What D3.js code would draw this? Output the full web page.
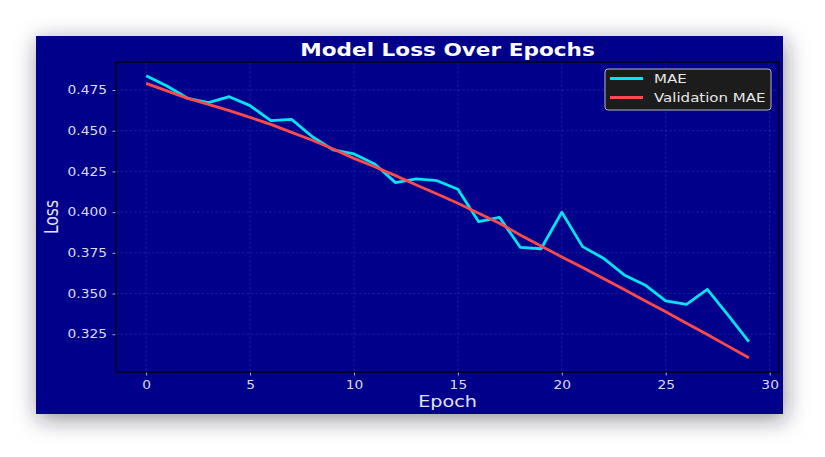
<!DOCTYPE html>
<html>
<head>
<meta charset="utf-8">
<script src="https://cdn.jsdelivr.net/npm/d3@7"></script>
<style>
  html, body { margin: 0; padding: 0; background: #ffffff; }
  svg { display: block; font-family: "DejaVu Sans", sans-serif; }
</style>
</head>
<body>
<svg id="chart" width="825" height="457"></svg>
<script>
// epochs 0..29
const epochs = d3.range(0, 30);

// training MAE (cyan)
const maeValues = [
  0.4838, 0.4775, 0.4699, 0.4672, 0.4709, 0.4654, 0.4562, 0.4570, 0.4463, 0.4382,
  0.4357, 0.4296, 0.4181, 0.4204, 0.4193, 0.4140, 0.3941, 0.3968, 0.3784, 0.3775,
  0.3999, 0.3788, 0.3717, 0.3614, 0.3553, 0.3455, 0.3434, 0.3526, 0.3367, 0.3205
];

// validation MAE (red)
const valMaeValues = [
  0.4791, 0.4745, 0.4699, 0.4662, 0.4623, 0.4582, 0.4539, 0.4490, 0.4441, 0.4388,
  0.4330, 0.4279, 0.4224, 0.4167, 0.4111, 0.4054, 0.3993, 0.3932, 0.3860, 0.3792,
  0.3725, 0.3660, 0.3592, 0.3525, 0.3456, 0.3388, 0.3318, 0.3248, 0.3177, 0.3106
];

const xTicks = [0, 5, 10, 15, 20, 25, 30];
const yTicks = [0.325, 0.350, 0.375, 0.400, 0.425, 0.450, 0.475];

const seriesNames = ["MAE", "Validation MAE"];
const seriesColors = ["#00e5f5", "#ff4a4a"];

// the picture is a bit wider than tall, text looks stretched sideways
const stretch = 1.2;

const svg = d3.select("#chart");

// drop shadow for the figure panel
const defs = svg.append("defs");
const shadow = defs.append("filter")
  .attr("id", "shadow")
  .attr("x", "-10%").attr("y", "-20%")
  .attr("width", "125%").attr("height", "145%");
shadow.append("feDropShadow")
  .attr("dx", 2).attr("dy", 5)
  .attr("stdDeviation", 11)
  .attr("flood-color", "#1a2030")
  .attr("flood-opacity", 0.5);

// figure panel
const fig = { x: 36, y: 36, w: 747, h: 378 };
svg.append("rect")
  .attr("x", fig.x).attr("y", fig.y)
  .attr("width", fig.w).attr("height", fig.h)
  .attr("fill", "#00008b")
  .attr("filter", "url(#shadow)");

// plot area
const plot = { left: 116, top: 62, right: 779, bottom: 372 };

const x = d3.scaleLinear()
  .domain([-1.45, 30.45])
  .range([plot.left, plot.right]);

const y = d3.scaleLinear()
  .domain([0.3018, 0.4922])
  .range([plot.bottom, plot.top]);

const g = svg.append("g");

// grid
const gridStyle = sel => sel
  .attr("stroke", "#8a8ad0")
  .attr("stroke-opacity", 0.25)
  .attr("stroke-width", 0.8)
  .attr("stroke-dasharray", "2.5,2");

g.append("g")
  .selectAll("line")
  .data(xTicks)
  .join("line")
  .attr("x1", d => x(d)).attr("x2", d => x(d))
  .attr("y1", plot.top).attr("y2", plot.bottom)
  .call(gridStyle);

g.append("g")
  .selectAll("line")
  .data(yTicks)
  .join("line")
  .attr("x1", plot.left).attr("x2", plot.right)
  .attr("y1", d => y(d)).attr("y2", d => y(d))
  .call(gridStyle);

// axes
const xAxis = d3.axisBottom(x)
  .tickValues(xTicks)
  .tickSize(3.5)
  .tickPadding(5)
  .tickFormat(d3.format("d"));

const yAxis = d3.axisLeft(y)
  .tickValues(yTicks)
  .tickSize(3.5)
  .tickPadding(4)
  .tickFormat(d3.format(".3f"));

const gx = g.append("g")
  .attr("transform", `translate(0,${plot.bottom})`)
  .call(xAxis);
const gy = g.append("g")
  .attr("transform", `translate(${plot.left},0)`)
  .call(yAxis);

[gx, gy].forEach(ax => {
  ax.select(".domain").remove();
  ax.selectAll(".tick line").attr("stroke", "#d8d8ee").attr("stroke-width", 0.8);
  ax.selectAll(".tick text")
    .attr("fill", "#dcdcf0")
    .attr("font-size", 11.5)
    .attr("font-family", "DejaVu Sans, sans-serif")
    .attr("transform", `scale(${stretch},1)`);
});

// series lines
const line = d3.line()
  .x((d, i) => x(epochs[i]))
  .y(d => y(d));

[maeValues, valMaeValues].forEach((vals, k) => {
  g.append("path")
    .datum(vals)
    .attr("fill", "none")
    .attr("stroke", seriesColors[k])
    .attr("stroke-width", 2.8)
    .attr("stroke-linejoin", "round")
    .attr("d", line);
});

// spines
g.append("rect")
  .attr("x", plot.left).attr("y", plot.top)
  .attr("width", plot.right - plot.left)
  .attr("height", plot.bottom - plot.top)
  .attr("fill", "none")
  .attr("stroke", "#000")
  .attr("stroke-width", 1.3);

// title and labels
svg.append("text")
  .attr("transform", `translate(${(plot.left + plot.right) / 2},56) scale(${stretch},1)`)
  .attr("text-anchor", "middle")
  .attr("fill", "#ffffff")
  .attr("font-size", 18)
  .attr("font-weight", "bold")
  .text("Model Loss Over Epochs");

svg.append("text")
  .attr("transform", `translate(${(plot.left + plot.right) / 2},407) scale(${stretch},1)`)
  .attr("text-anchor", "middle")
  .attr("fill", "#e4e4f4")
  .attr("font-size", 16)
  .text("Epoch");

svg.append("text")
  .attr("transform", `translate(58,${(plot.top + plot.bottom) / 2}) scale(${stretch},1) rotate(-90)`)
  .attr("text-anchor", "middle")
  .attr("fill", "#e4e4f4")
  .attr("font-size", 15.5)
  .text("Loss");

// legend
const legend = svg.append("g").attr("transform", "translate(605,69)");
legend.append("rect")
  .attr("width", 166).attr("height", 41)
  .attr("rx", 3)
  .attr("fill", "#1c1c1c")
  .attr("stroke", "#b8b8b8")
  .attr("stroke-width", 1);

seriesNames.forEach((name, i) => {
  const ly = 9.5 + i * 19;
  legend.append("line")
    .attr("x1", 5).attr("x2", 38)
    .attr("y1", ly).attr("y2", ly)
    .attr("stroke", seriesColors[i])
    .attr("stroke-width", 2.8);
  legend.append("text")
    .attr("transform", `translate(49,${ly + 4.3}) scale(${stretch + 0.05},1)`)
    .attr("fill", "#e8e8e8")
    .attr("font-size", 12)
    .text(name);
});
</script>
</body>
</html>
